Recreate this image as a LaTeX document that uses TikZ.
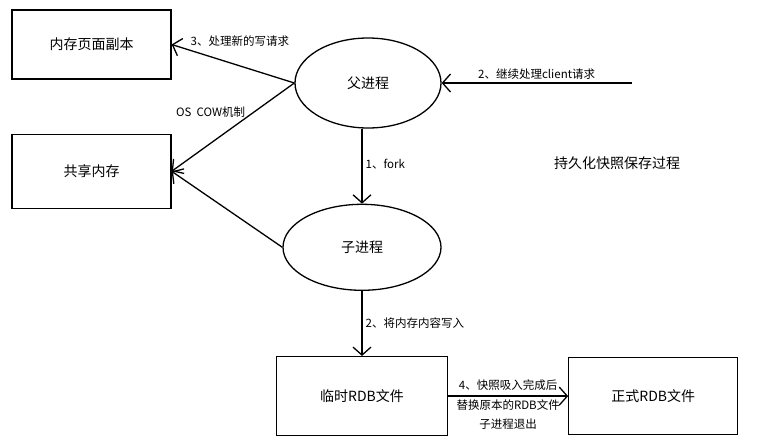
\documentclass[tikz,border=0pt]{standalone}
\usepackage{fontspec}
\setmainfont{Noto Sans CJK SC}
\usetikzlibrary{positioning,arrows.meta,shapes.geometric}

\begin{document}
\begin{tikzpicture}[
  x=1pt, y=1pt,
  box/.style={draw, line width=1.3pt, inner sep=0pt, font=\fontsize{14}{16}\selectfont},
  proc/.style={box, ellipse},
  lbl/.style={font=\fontsize{11.5}{13}\selectfont, inner sep=3pt},
  line/.style={-{Straight Barb[length=8pt, width=18pt]}, line width=1.3pt},
]
\useasboundingbox (0,0) rectangle (760,-442);
\node[proc, minimum width=146pt, minimum height=90pt] (parent) at (368,-83) {父进程};
\node[proc, minimum width=158pt, minimum height=86pt, below=75pt of parent, xshift=-6pt] (child) {子进程};
\node[box, minimum width=171pt, minimum height=79pt, below=65pt of child] (tmp) {临时RDB文件};
\node[box, minimum width=169pt, minimum height=77pt, right=120pt of tmp] (final) {正式RDB文件};
\node[box, minimum width=159pt, minimum height=69pt] (copy) at (91.5,-44.5) {内存页面副本};
\node[box, minimum width=159pt, minimum height=74pt, below=54pt of copy] (shared) {共享内存};
\node[font=\fontsize{14}{16}\selectfont] (title) at (617,-163) {持久化快照保存过程};
\coordinate[right=190pt of parent] (client);

\draw[line] (client) -- node[lbl, above] {2、继续处理client请求} (parent.east);
\draw[line] (child.north |- parent.south) -- node[lbl, right, yshift=2pt] {1、fork} (child.north);
\draw[line] (parent.west) -- node[lbl, pos=0.85, above right, inner sep=0pt, yshift=3pt] {3、处理新的写请求} (copy.east);
\draw[line] (parent.west) -- node[lbl, pos=0.33, left, xshift=-5pt] {OS\ \ COW机制} (shared.east);
\draw[line] (child.west) -- (shared.east);
\draw[line] (child) -- node[lbl, right] {2、将内存内容写入} (tmp);
\draw[line] (tmp) -- node[lbl, below, yshift=17pt, inner sep=0pt, align=center, font=\fontsize{11.5}{19.5}\selectfont] {4、快照吸入完成后\\替换原本的RDB文件\\子进程退出} (final);
\end{tikzpicture}
\end{document}
